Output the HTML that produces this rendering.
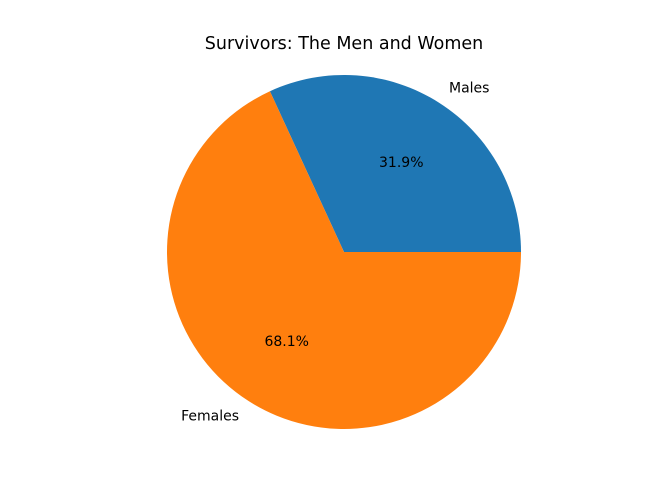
<!DOCTYPE html>
<html><head><meta charset="utf-8"><style>
body{margin:0;background:#fff;}
svg{display:block;font-family:"DejaVu Sans","Liberation Sans",sans-serif;}
</style></head><body>
<svg id="chart" width="672" height="495">
<text x="344" y="49" text-anchor="middle" font-size="17.5" fill="#000">Survivors: The Men and Women</text>
<g id="slices"></g>
</svg>
<script>
const categories = ["Males", "Females"];
const values = [109, 233];
const colors = ["#1f77b4", "#ff7f0e"];
const cx = 344, cy = 252, r = 177;
const g = document.getElementById('slices');
const NS = 'http://www.w3.org/2000/svg';
const total = values.reduce((a, b) => a + b, 0);
let start = 0;
function pt(a, rad) { return [cx + rad * Math.cos(a), cy - rad * Math.sin(a)]; }
values.forEach((v, i) => {
  const sweep = v / total * 2 * Math.PI;
  const end = start + sweep;
  const [x1, y1] = pt(start, r), [x2, y2] = pt(end, r);
  const large = sweep > Math.PI ? 1 : 0;
  const p = document.createElementNS(NS, 'path');
  p.setAttribute('d', `M${cx},${cy} L${x1},${y1} A${r},${r} 0 ${large} 0 ${x2},${y2} Z`);
  p.setAttribute('fill', colors[i]);
  
  
  g.appendChild(p);
  const mid = start + sweep / 2;
  const [lx, ly] = pt(mid, r * 1.1);
  const t = document.createElementNS(NS, 'text');
  t.setAttribute('x', lx); t.setAttribute('y', ly + 4.5);
  t.setAttribute('font-size', '14');
  t.setAttribute('text-anchor', Math.cos(mid) >= 0 ? 'start' : 'end');
  t.textContent = categories[i];
  
  
  g.appendChild(t);
  const [px, py] = pt(mid, r * 0.6);
  const pc = document.createElementNS(NS, 'text');
  pc.setAttribute('x', px); pc.setAttribute('y', py + 4.5);
  pc.setAttribute('font-size', '14');
  pc.setAttribute('text-anchor', 'middle');
  pc.textContent = (v / total * 100).toFixed(1) + '%';
  
  
  g.appendChild(pc);
  start = end;
});
</script>
</body></html>
